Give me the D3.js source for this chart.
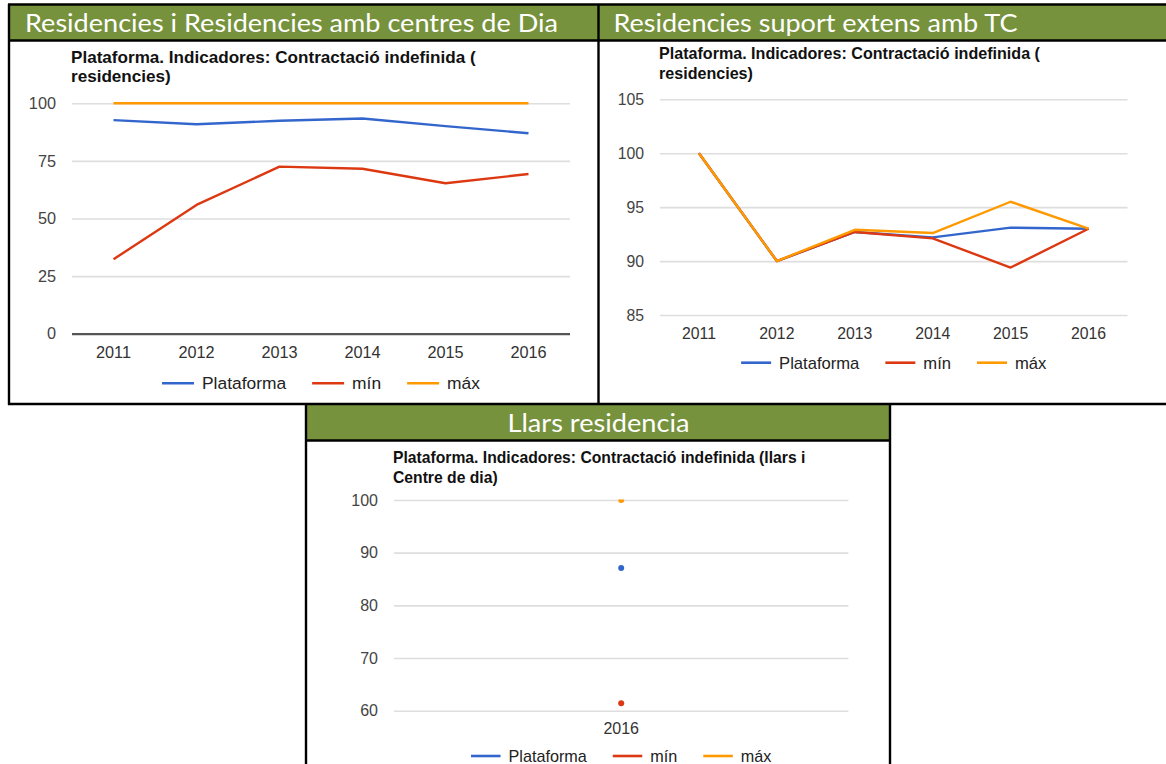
<!DOCTYPE html>
<html>
<head>
<meta charset="utf-8">
<script src="https://cdn.jsdelivr.net/npm/d3@7"></script>
<style>
  body { margin: 0; background: #fff; }
  svg { display: block; }
</style>
</head>
<body>
<svg id="fig" width="1166" height="764"></svg>
<script>
// ---- data ----
const years = ["2011", "2012", "2013", "2014", "2015", "2016"];
const seriesNames = ["Plataforma", "mín", "máx"];
const seriesColors = ["#3366cc", "#dc3912", "#ff9900"];

// Residencies i Residencies amb centres de Dia
const resPlataforma = [92.7, 90.9, 92.4, 93.4, 90.1, 87.0];
const resMin = [32.3, 55.9, 72.5, 71.6, 65.3, 69.3];
const resMax = [100, 100, 100, 100, 100, 100];
const resTicks = [0, 25, 50, 75, 100];

// Residencies suport extens amb TC
const tcPlataforma = [100, 90, 92.7, 92.2, 93.1, 93.0];
const tcMin = [100, 90, 92.7, 92.1, 89.4, 93.0];
const tcMax = [100, 90, 92.9, 92.6, 95.5, 93.0];
const tcTicks = [85, 90, 95, 100, 105];

// Llars residencia
const llarsYears = ["2016"];
const llarsPlataforma = [87.1];
const llarsMin = [61.4];
const llarsMax = [100];
const llarsTicks = [60, 70, 80, 90, 100];

const panelTitles = [
  "Residencies i Residencies amb centres de Dia",
  "Residencies suport extens amb TC",
  "Llars residencia"
];
const chartTitles = [
  ["Plataforma. Indicadores: Contractació indefinida (", "residencies)"],
  ["Plataforma. Indicadores: Contractació indefinida (", "residencies)"],
  ["Plataforma. Indicadores: Contractació indefinida (llars i", "Centre de dia)"]
];

// ---- frame ----
const svg = d3.select("#fig");
const GREEN = "#76923c";
const frame = svg.append("g");

// header bands
frame.append("rect").attr("x", 9).attr("y", 5).attr("width", 1157).attr("height", 35).attr("fill", GREEN);
frame.append("rect").attr("x", 306).attr("y", 405).attr("width", 584).attr("height", 35).attr("fill", GREEN);

const rule = (x1, y1, x2, y2) => frame.append("line")
  .attr("x1", x1).attr("y1", y1).attr("x2", x2).attr("y2", y2)
  .attr("stroke", "#000").attr("stroke-width", 2.4);

rule(8, 4.5, 1166, 4.5);      // top edge
rule(8, 40.5, 1166, 40.5);    // under top headers
rule(9, 4, 9, 405);           // left edge
rule(598.5, 4, 598.5, 405);   // divider between top panels
rule(8, 404, 1166, 404);      // bottom of top row
rule(306, 404, 306, 764);     // lower panel left
rule(890, 404, 890, 764);     // lower panel right
rule(305, 440.5, 891, 440.5); // under lower header

const headerText = (x, y, w, txt, anchor) => frame.append("text")
  .attr("x", x).attr("y", y)
  .attr("text-anchor", anchor)
  .attr("font-family", "Lato, 'Open Sans', sans-serif")
  .attr("font-size", 25)
  .attr("fill", "#fff")
  .attr("textLength", w).attr("lengthAdjust", "spacingAndGlyphs")
  .text(txt);

headerText(25, 31.5, 533, panelTitles[0], "start");
headerText(613.5, 31.5, 404, panelTitles[1], "start");
headerText(598.5, 431.5, 182, panelTitles[2], "middle");

// ---- chart drawing ----
function drawChart(opt) {
  const g = svg.append("g");
  const x = d3.scaleBand().domain(opt.cats).range([opt.x0, opt.x1]);
  const y = d3.scaleLinear().domain(opt.domain).range([opt.yBottom, opt.yTop]);
  const cx = d => x(d) + x.bandwidth() / 2;

  // title
  const title = g.append("text")
    .attr("font-family", "'Liberation Sans', Arial, sans-serif")
    .attr("font-weight", "bold")
    .attr("font-size", opt.titleSize)
    .attr("fill", "#111");
  opt.titleLines.forEach((t, i) => {
    title.append("tspan").attr("x", opt.x0 - 1).attr("y", opt.titleY + i * opt.titleGap).text(t);
  });

  // y grid + labels
  const yAxis = d3.axisLeft(y).tickValues(opt.ticks).tickSize(-(opt.x1 - opt.x0)).tickPadding(16);
  const ya = g.append("g").attr("transform", `translate(${opt.x0},0)`).call(yAxis);
  ya.select(".domain").remove();
  ya.selectAll(".tick line")
    .attr("stroke", d => (opt.baseline && d === 0) ? "#555" : "#dedede")
    .attr("stroke-width", d => (opt.baseline && d === 0) ? 2.2 : 1.6);
  ya.selectAll(".tick text")
    .attr("font-family", "'Liberation Sans', Arial, sans-serif")
    .attr("font-size", opt.tickSize)
    .attr("fill", "#444");

  // x labels
  const xAxis = d3.axisBottom(x).tickSize(0).tickPadding(opt.xLabelPad);
  const xa = g.append("g").attr("transform", `translate(0,${opt.yBottom})`).call(xAxis);
  xa.select(".domain").remove();
  xa.selectAll(".tick text")
    .attr("font-family", "'Liberation Sans', Arial, sans-serif")
    .attr("font-size", opt.tickSize)
    .attr("fill", "#333");

  // series
  const clipId = "clip" + opt.id;
  g.append("clipPath").attr("id", clipId)
    .append("rect")
    .attr("x", opt.x0).attr("y", opt.yTop - 0.5)
    .attr("width", opt.x1 - opt.x0).attr("height", opt.yBottom - opt.yTop + 10);

  const plot = g.append("g");
  if (opt.dots) plot.attr("clip-path", `url(#${clipId})`);

  const line = d3.line().x((d, i) => cx(opt.cats[i])).y(d => y(d));
  opt.series.forEach((s, k) => {
    if (opt.dots) {
      plot.selectAll(null).data(s).enter().append("circle")
        .attr("cx", (d, i) => cx(opt.cats[i]))
        .attr("cy", d => y(d))
        .attr("r", 3)
        .attr("fill", seriesColors[k]);
    } else {
      plot.append("path").datum(s)
        .attr("d", line)
        .attr("fill", "none")
        .attr("stroke", seriesColors[k])
        .attr("stroke-width", 2.4)
        .attr("stroke-linejoin", "round");
    }
  });

  // legend, centred on the plot
  const lg = g.append("g").attr("transform", `translate(0,${opt.legendY})`);
  const swatch = opt.swatch, gapText = 8, gapItem = 26;
  const items = seriesNames.map((n, k) => {
    const it = lg.append("g");
    it.append("line").attr("x1", 0).attr("x2", swatch).attr("y1", 0).attr("y2", 0)
      .attr("stroke", seriesColors[k]).attr("stroke-width", 2.6);
    const t = it.append("text").attr("x", swatch + gapText).attr("dy", "0.35em")
      .attr("font-family", "'Liberation Sans', Arial, sans-serif")
      .attr("font-size", opt.legendSize)
      .attr("fill", "#222")
      .text(n);
    return { it, w: swatch + gapText + t.node().getComputedTextLength() };
  });
  const total = d3.sum(items, d => d.w) + gapItem * (items.length - 1);
  let pos = (opt.x0 + opt.x1) / 2 - total / 2;
  items.forEach(d => {
    d.it.attr("transform", `translate(${pos},0)`);
    pos += d.w + gapItem;
  });
}

drawChart({
  id: 1, cats: years, domain: [0, 100], ticks: resTicks,
  x0: 72, x1: 570, yTop: 103.3, yBottom: 333.7,
  series: [resPlataforma, resMin, resMax], baseline: true, dots: false,
  titleLines: chartTitles[0], titleY: 62.5, titleGap: 19.5, titleSize: 17.1,
  tickSize: 16.3, xLabelPad: 12.5, legendY: 383.3, legendSize: 17.4, swatch: 32
});

drawChart({
  id: 2, cats: years, domain: [85, 105], ticks: tcTicks,
  x0: 660, x1: 1127.5, yTop: 99.3, yBottom: 315,
  series: [tcPlataforma, tcMin, tcMax], baseline: false, dots: false,
  titleLines: chartTitles[1], titleY: 59.3, titleGap: 20, titleSize: 16.1,
  tickSize: 15.8, xLabelPad: 12.5, legendY: 362.7, legendSize: 16.6, swatch: 30
});

drawChart({
  id: 3, cats: llarsYears, domain: [60, 100], ticks: llarsTicks,
  x0: 394, x1: 848.4, yTop: 500, yBottom: 710.7,
  series: [llarsPlataforma, llarsMin, llarsMax], baseline: false, dots: true,
  titleLines: chartTitles[2], titleY: 462.7, titleGap: 20, titleSize: 15.7,
  tickSize: 16, xLabelPad: 12, legendY: 756, legendSize: 16.2, swatch: 29.5
});
</script>
</body>
</html>
